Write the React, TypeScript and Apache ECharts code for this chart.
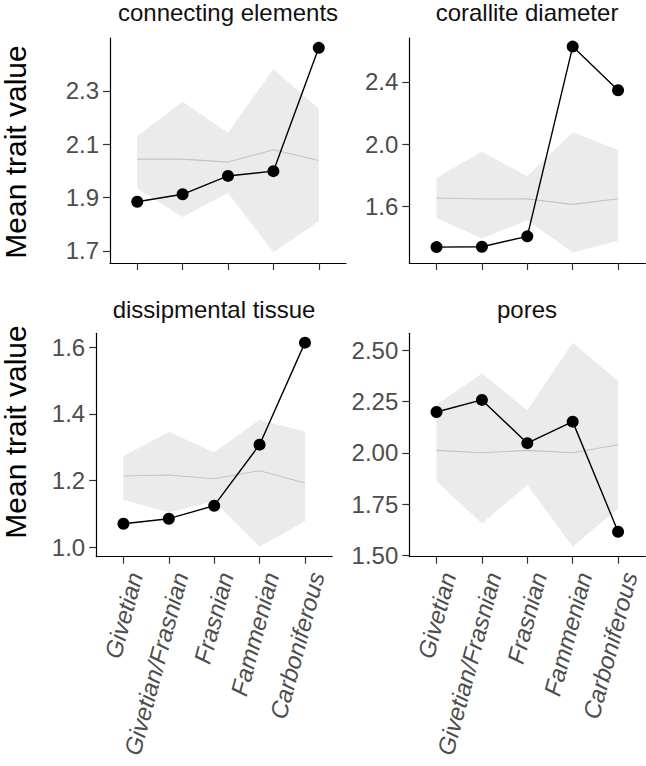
import React, { useEffect, useRef } from 'react';
import * as echarts from 'echarts';

const categories = ['Givetian', 'Givetian/Frasnian', 'Frasnian', 'Fammenian', 'Carboniferous'];
const panelTitles = ['connecting elements', 'corallite diameter', 'dissipmental tissue', 'pores'];
const yAxisTitle = 'Mean trait value';

// connecting elements
const connObserved = [1.884, 1.912, 1.981, 1.999, 2.462];
const connMean = [2.044, 2.044, 2.033, 2.079, 2.039];
const connUpper = [2.131, 2.26, 2.143, 2.383, 2.233];
const connLower = [1.934, 1.827, 1.917, 1.694, 1.811];
const connTicks = [1.7, 1.9, 2.1, 2.3];

// corallite diameter
const coralObserved = [1.341, 1.343, 1.41, 2.627, 2.347];
const coralMean = [1.656, 1.649, 1.65, 1.615, 1.651];
const coralUpper = [1.786, 1.953, 1.795, 2.077, 1.963];
const coralLower = [1.526, 1.397, 1.513, 1.307, 1.382];
const coralTicks = [1.6, 2.0, 2.4];

// dissipmental tissue
const dissObserved = [1.071, 1.086, 1.125, 1.308, 1.614];
const dissMean = [1.214, 1.217, 1.206, 1.23, 1.193];
const dissUpper = [1.274, 1.346, 1.285, 1.383, 1.347];
const dissLower = [1.142, 1.105, 1.138, 1.002, 1.078];
const dissTicks = [1.0, 1.2, 1.4, 1.6];

// pores
const poresObserved = [2.199, 2.258, 2.047, 2.152, 1.615];
const poresMean = [2.012, 2.0, 2.012, 2.0, 2.039];
const poresUpper = [2.235, 2.387, 2.207, 2.537, 2.35];
const poresLower = [1.86, 1.655, 1.843, 1.542, 1.727];
const poresTicks = [1.5, 1.75, 2.0, 2.25, 2.5];

const FONT = 'Liberation Sans, Arial, Helvetica, sans-serif';

export default function App() {
  const ref = useRef<HTMLDivElement>(null);

  useEffect(() => {
    document.body.style.margin = '0';
    if (!ref.current) return;
    const chart = echarts.init(ref.current, null, { renderer: 'svg' });

    const panels = [
      { observed: connObserved, mean: connMean, upper: connUpper, lower: connLower, ticks: connTicks, min: 1.654, max: 2.499, dec: 1 },
      { observed: coralObserved, mean: coralMean, upper: coralUpper, lower: coralLower, ticks: coralTicks, min: 1.239, max: 2.682, dec: 1 },
      { observed: dissObserved, mean: dissMean, upper: dissUpper, lower: dissLower, ticks: dissTicks, min: 0.972, max: 1.642, dec: 1 },
      { observed: poresObserved, mean: poresMean, upper: poresUpper, lower: poresLower, ticks: poresTicks, min: 1.493, max: 2.583, dec: 2 },
    ];

    const gridPos = [
      { left: 110, top: 38, width: 236, height: 225 },
      { left: 409.3, top: 38, width: 236, height: 225 },
      { left: 96.2, top: 333.3, width: 236, height: 223.4 },
      { left: 409.3, top: 333.3, width: 236, height: 223.4 },
    ];

    const xPositions = categories.map((_, i) => i + 1);

    const grid = gridPos.map((g) => ({ ...g, containLabel: false }));

    const xAxis = panels.map((_, i) => ({
      type: 'value',
      gridIndex: i,
      min: 0.4,
      max: 5.6,
      splitLine: { show: false },
      axisLine: { show: true, onZero: false, lineStyle: { color: '#000', width: 1.2 } },
      axisTick: { show: true, customValues: xPositions, length: 7, lineStyle: { color: '#333', width: 1.2 } },
      axisLabel: {
        show: i >= 2,
        customValues: xPositions,
        formatter: (v: number) => categories[Math.round(v) - 1] ?? '',
        rotate: 75,
        verticalAlign: 'top',
        fontStyle: 'italic',
        fontSize: 24,
        fontFamily: FONT,
        color: '#4D4D4D',
        margin: 13,
      },
    }));

    const yAxis = panels.map((p, i) => ({
      type: 'value',
      gridIndex: i,
      min: p.min,
      max: p.max,
      splitLine: { show: false },
      axisLine: { show: true, onZero: false, lineStyle: { color: '#000', width: 1.2 } },
      axisTick: { show: true, customValues: p.ticks, length: 7, lineStyle: { color: '#333', width: 1.2 } },
      axisLabel: {
        show: true,
        customValues: p.ticks,
        formatter: (v: number) => v.toFixed(p.dec),
        fontSize: 24,
        fontFamily: FONT,
        color: '#4D4D4D',
        margin: 11,
      },
    }));

    const series: any[] = [];
    panels.forEach((p, i) => {
      series.push({
        type: 'custom',
        xAxisIndex: i,
        yAxisIndex: i,
        data: xPositions.map((x, k) => [x, p.lower[k], p.upper[k]]),
        encode: { x: 0, y: [1, 2] },
        silent: true,
        z: 1,
        renderItem: (params: any, api: any) => {
          if (params.dataIndex !== 0) return null;
          const top = xPositions.map((x, k) => api.coord([x, p.upper[k]]));
          const bottom = xPositions.map((x, k) => api.coord([x, p.lower[k]])).reverse();
          return {
            type: 'polygon',
            shape: { points: top.concat(bottom) },
            style: { fill: '#EBEBEB', stroke: 'none' },
          };
        },
      });
      series.push({
        type: 'line',
        xAxisIndex: i,
        yAxisIndex: i,
        data: p.mean.map((v, k) => [xPositions[k], v]),
        symbol: 'none',
        lineStyle: { color: '#C4C4C4', width: 1.1 },
        silent: true,
        z: 2,
      });
      series.push({
        type: 'line',
        xAxisIndex: i,
        yAxisIndex: i,
        data: p.observed.map((v, k) => [xPositions[k], v]),
        symbol: 'circle',
        symbolSize: 12,
        itemStyle: { color: '#000' },
        lineStyle: { color: '#000', width: 1.4 },
        silent: true,
        z: 3,
      });
    });

    const titleStyle = { fontSize: 24, fontFamily: FONT, fill: '#111', textAlign: 'center', textVerticalAlign: 'middle' };
    const graphic: any[] = [
      { type: 'text', x: 228, y: 12, style: { ...titleStyle, text: panelTitles[0] } },
      { type: 'text', x: 527, y: 12, style: { ...titleStyle, text: panelTitles[1] } },
      { type: 'text', x: 214, y: 309.5, style: { ...titleStyle, text: panelTitles[2] } },
      { type: 'text', x: 527, y: 309.5, style: { ...titleStyle, text: panelTitles[3] } },
      { type: 'text', x: 15.6, y: 152, rotation: Math.PI / 2, style: { fontSize: 30, fontFamily: FONT, fill: '#000', text: yAxisTitle, textAlign: 'center', textVerticalAlign: 'middle' } },
      { type: 'text', x: 15.6, y: 432, rotation: Math.PI / 2, style: { fontSize: 30, fontFamily: FONT, fill: '#000', text: yAxisTitle, textAlign: 'center', textVerticalAlign: 'middle' } },
    ];

    chart.setOption({
      animation: false,
      backgroundColor: '#fff',
      grid,
      xAxis,
      yAxis,
      series,
      graphic,
    });

    return () => chart.dispose();
  }, []);

  return <div ref={ref} style={{ width: 646, height: 766 }} />;
}
